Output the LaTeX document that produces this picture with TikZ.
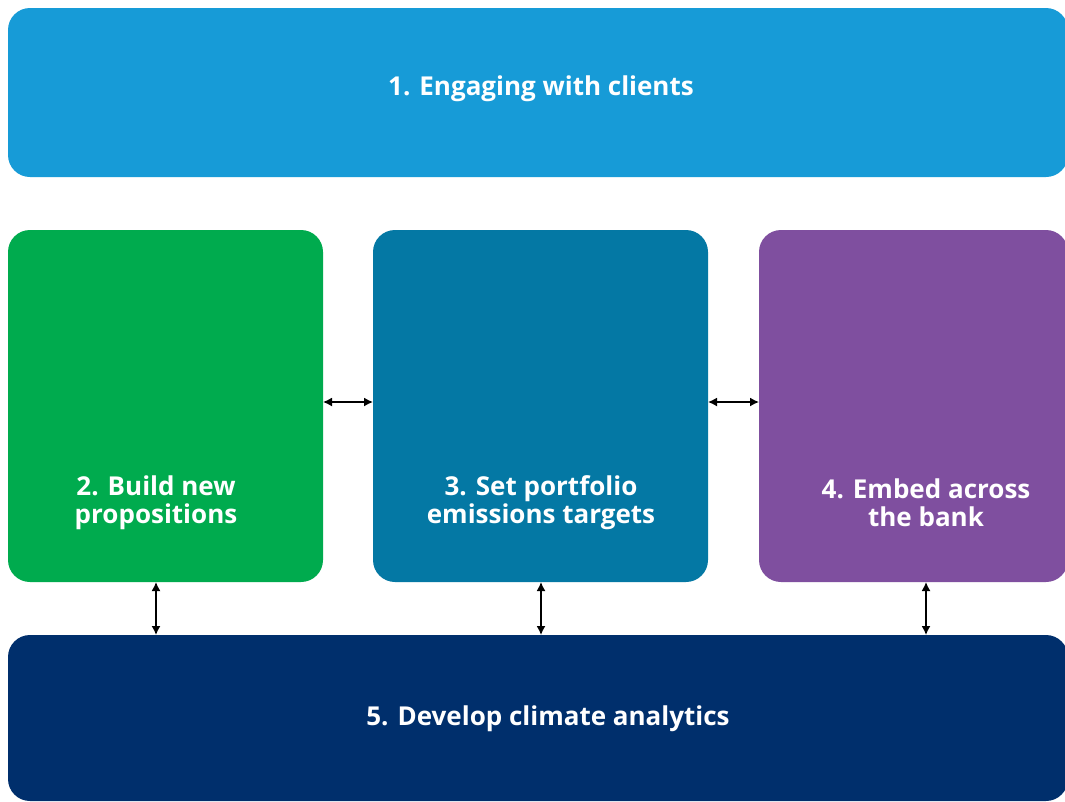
\documentclass[tikz,border=0pt]{standalone}
\usepackage{fontspec}
\setmainfont{Open Sans}
\usetikzlibrary{arrows.meta}
\definecolor{cTop}{HTML}{179BD7}
\definecolor{cGreen}{HTML}{00AB4E}
\definecolor{cTeal}{HTML}{0478A4}
\definecolor{cPurple}{HTML}{7F4F9F}
\definecolor{cNavy}{HTML}{002F6C}
\tikzset{
  box/.style={rounded corners=22pt, inner sep=0pt, outer sep=0pt},
  lbl/.style={text=white, font=\fontsize{26}{28}\selectfont\bfseries, align=center, inner sep=0pt},
  link/.style={line width=1.5pt, {Latex[length=9pt,width=9pt]}-{Latex[length=9pt,width=9pt]}}
}
\begin{document}
\begin{tikzpicture}[x=1pt,y=-1pt]
\useasboundingbox (0,0) rectangle (1065,801);
\clip (0,0) rectangle (1065,801);
\fill[white] (0,0) rectangle (1065,801);
% boxes
\node[box, fill=cTop, minimum width=1060pt, minimum height=169pt] (b1) at (538,92.5) {};
\node[box, fill=cGreen, minimum width=315pt, minimum height=352pt] (b2) at (165.5,406) {};
\node[box, fill=cTeal, minimum width=335pt, minimum height=352pt] (b3) at (540.5,406) {};
\node[box, fill=cPurple, minimum width=309pt, minimum height=352pt] (b4) at (913.5,406) {};
\node[box, fill=cNavy, minimum width=1060pt, minimum height=166pt] (b5) at (538,718) {};
% labels
\node[lbl] (l1) at (541,89) {1. Engaging with clients};
\node[lbl] (l2) at (156,503) {2. Build new\\propositions};
\node[lbl] (l3) at (541,503) {3. Set portfolio\\emissions targets};
\node[lbl] (l4) at (926,503) {4. Embed across\\the bank};
\node[lbl] (l5) at (548,719) {5. Develop climate analytics};
% connectors
\draw[link] ([yshift=4pt]b2.east) -- ([yshift=4pt]b3.west);
\draw[link] ([yshift=4pt]b3.east) -- ([yshift=4pt]b4.west);
\draw[link] (l2 |- b2.south) -- (l2 |- b5.north);
\draw[link] (l3 |- b3.south) -- (l3 |- b5.north);
\draw[link] (l4 |- b4.south) -- (l4 |- b5.north);
\end{tikzpicture}
\end{document}
